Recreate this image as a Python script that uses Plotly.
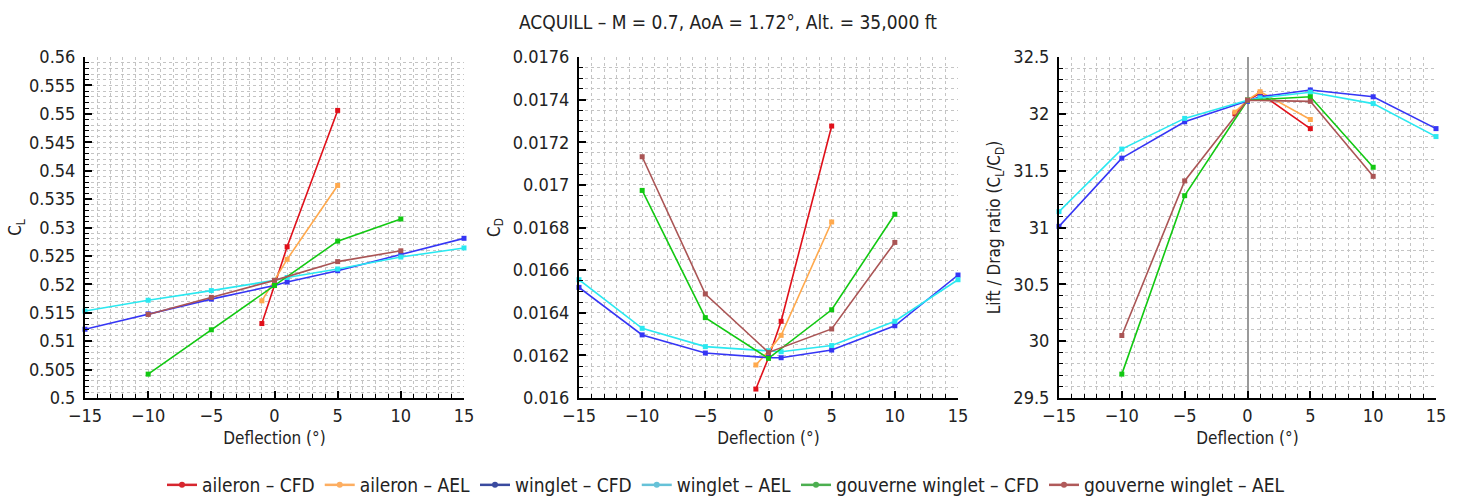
import plotly.graph_objects as go

# ---------------- data ----------------
defl_ail = [-1, 0, 1, 5]
defl_wing = [-15, -10, -5, 0, 1, 5, 10, 15]
defl_gouv = [-10, -5, 0, 5, 10]

ail_cfd_cl = [0.5131, 0.5198, 0.5266, 0.5506]
ail_ael_cl = [0.5171, 0.5207, 0.5244, 0.5374]
wing_cfd_cl = [0.5121, 0.5148, 0.5174, 0.5198, 0.5204, 0.5224, 0.5252, 0.5281]
wing_ael_cl = [0.5153, 0.5172, 0.5189, 0.5207, 0.5212, 0.5227, 0.5248, 0.5264]
gouv_cfd_cl = [0.5042, 0.5120, 0.5198, 0.5276, 0.5315]
gouv_ael_cl = [0.5147, 0.5177, 0.5207, 0.5240, 0.5259]

ail_cfd_cd = [0.016042, 0.016189, 0.016360, 0.017276]
ail_ael_cd = [0.016155, 0.016220, 0.016294, 0.016826]
wing_cfd_cd = [0.016519, 0.016296, 0.016211, 0.016189, 0.016189, 0.016225, 0.016339, 0.016577]
wing_ael_cd = [0.016555, 0.016327, 0.016241, 0.016222, 0.016217, 0.016246, 0.016360, 0.016555]
gouv_cfd_cd = [0.016974, 0.016377, 0.016186, 0.016414, 0.016862]
gouv_ael_cd = [0.017132, 0.016488, 0.016214, 0.016324, 0.016730]

ail_cfd_ld = [32.00, 32.12, 32.18, 31.87]
ail_ael_ld = [32.015, 32.12, 32.195, 31.95]
wing_cfd_ld = [31.01, 31.61, 31.93, 32.11, 32.15, 32.21, 32.15, 31.87]
wing_ael_ld = [31.14, 31.69, 31.96, 32.12, 32.14, 32.19, 32.09, 31.80]
gouv_cfd_ld = [29.71, 31.28, 32.12, 32.15, 31.53]
gouv_ael_ld = [30.05, 31.41, 32.12, 32.11, 31.45]

series_names = ["aileron – CFD", "aileron – AEL", "winglet – CFD",
                "winglet – AEL", "gouverne winglet – CFD", "gouverne winglet – AEL"]

x_ticks = [-15, -10, -5, 0, 5, 10, 15]
x_ticktext = ["−15", "−10", "−5", "0", "5", "10", "15"]
cl_ticks = [0.5, 0.505, 0.51, 0.515, 0.52, 0.525, 0.53, 0.535, 0.54, 0.545, 0.55, 0.555, 0.56]
cl_ticktext = ["0.5", "0.505", "0.51", "0.515", "0.52", "0.525", "0.53", "0.535",
               "0.54", "0.545", "0.55", "0.555", "0.56"]
cd_ticks = [0.016, 0.0162, 0.0164, 0.0166, 0.0168, 0.017, 0.0172, 0.0174, 0.0176]
cd_ticktext = ["0.016", "0.0162", "0.0164", "0.0166", "0.0168", "0.017", "0.0172", "0.0174", "0.0176"]
ld_ticks = [29.5, 30, 30.5, 31, 31.5, 32, 32.5]
ld_ticktext = ["29.5", "30", "30.5", "31", "31.5", "32", "32.5"]

# ---------------- style ----------------
line_colors = ["#e0101a", "#ffa94d", "#3535f5", "#2ae8f0", "#12c812", "#aa5555"]
legend_colors = ["#d7262f", "#fdae61", "#3a4a9f", "#66c2d8", "#4caf50", "#b05a5a"]
FONT = "DejaVu Sans Condensed, Liberation Sans Narrow, sans-serif"
TXT = "#222222"

W, H = 1458, 496
L, R, T, B = 85, 1436, 57, 398
PW, PH = R - L, B - T


def xd(a, b):
    return [(a - L) / PW, (b - L) / PW]


dom_x = [xd(85, 464), xd(579, 958), xd(1059, 1436)]
dom_y = [0, 1]

fig = go.Figure()

panels = [
    ([ail_cfd_cl, ail_ael_cl, wing_cfd_cl, wing_ael_cl, gouv_cfd_cl, gouv_ael_cl], "x", "y"),
    ([ail_cfd_cd, ail_ael_cd, wing_cfd_cd, wing_ael_cd, gouv_cfd_cd, gouv_ael_cd], "x2", "y2"),
    ([ail_cfd_ld, ail_ael_ld, wing_cfd_ld, wing_ael_ld, gouv_cfd_ld, gouv_ael_ld], "x3", "y3"),
]
xs = [defl_ail, defl_ail, defl_wing, defl_wing, defl_gouv, defl_gouv]

for ys, xa, ya in panels:
    for i, yv in enumerate(ys):
        fig.add_trace(go.Scatter(
            x=xs[i], y=yv, mode="lines+markers", xaxis=xa, yaxis=ya,
            line=dict(color=line_colors[i], width=1.6),
            marker=dict(color=line_colors[i], size=5, symbol="square"),
            showlegend=False, hoverinfo="skip", cliponaxis=False))

# legend-only traces
for i, name in enumerate(series_names):
    fig.add_trace(go.Scatter(
        x=[None], y=[None], mode="lines+markers", name=name, xaxis="x", yaxis="y",
        line=dict(color=legend_colors[i], width=2.5),
        marker=dict(color=legend_colors[i], size=6, symbol="circle")))

grid_common = dict(
    showgrid=True, gridcolor="#c4c4c4", griddash="dot", gridwidth=1,
    showline=True, linecolor="black", linewidth=2,
    ticks="inside", ticklen=7, tickwidth=2, tickcolor="black",
    tickfont=dict(family=FONT, size=18, color=TXT),
    zeroline=False, mirror=False, automargin=False,
)


def xaxis(dom, anchor, zero=False):
    d = dict(grid_common)
    d.update(domain=dom, anchor=anchor, range=[-15, 15],
             tickmode="array", tickvals=x_ticks, ticktext=x_ticktext,
             title=dict(text="Deflection (°)", font=dict(family=FONT, size=17, color=TXT), standoff=8),
             minor=dict(dtick=1, tick0=0, showgrid=True, gridcolor="#c4c4c4", griddash="dot",
                        ticks="inside", ticklen=4, tickwidth=1, tickcolor="black"))
    if zero:
        d.update(zeroline=True, zerolinecolor="#9a9a9a", zerolinewidth=1.5)
    return d


def yaxis(anchor, rng, tv, tt, minor_dt, title, standoff=8):
    d = dict(grid_common)
    d.update(domain=dom_y, anchor=anchor, range=rng,
             tickmode="array", tickvals=tv, ticktext=tt, ticklabelstandoff=4,
             title=dict(text=title, font=dict(family=FONT, size=17, color=TXT), standoff=standoff),
             minor=dict(dtick=minor_dt, tick0=rng[0], showgrid=True, gridcolor="#c4c4c4", griddash="dot",
                        ticks="inside", ticklen=4, tickwidth=1, tickcolor="black"))
    return d


fig.update_layout(
    width=W, height=H,
    margin=dict(l=L, r=W - R, t=T, b=H - B, autoexpand=False),
    paper_bgcolor="white", plot_bgcolor="white",
    font=dict(family=FONT, size=17, color=TXT),
    title=dict(text="ACQUILL – M = 0.7, AoA = 1.72°, Alt. = 35,000 ft",
               x=728 / W, xanchor="center", xref="container", y=1 - 22 / H, yanchor="middle",
               font=dict(family=FONT, size=19, color=TXT)),
    xaxis=xaxis(dom_x[0], "y"),
    yaxis=yaxis("x", [0.5, 0.56], cl_ticks, cl_ticktext, 0.001, "C<sub>L</sub>", standoff=3),
    xaxis2=xaxis(dom_x[1], "y2"),
    yaxis2=yaxis("x2", [0.016, 0.0176], cd_ticks, cd_ticktext, 0.00005, "C<sub>D</sub>"),
    xaxis3=xaxis(dom_x[2], "y3", zero=True),
    yaxis3=yaxis("x3", [29.5, 32.5], ld_ticks, ld_ticktext, 0.1,
                 "Lift / Drag ratio (C<sub>L</sub>/C<sub>D</sub>)"),
    legend=dict(orientation="h", x=(726 - L) / PW, xanchor="center",
                y=(B - 485) / PH, yanchor="middle",
                font=dict(family=FONT, size=19, color=TXT), itemwidth=30,
                bgcolor="rgba(0,0,0,0)"),
    showlegend=True,
)

fig.write_html("out.html")
